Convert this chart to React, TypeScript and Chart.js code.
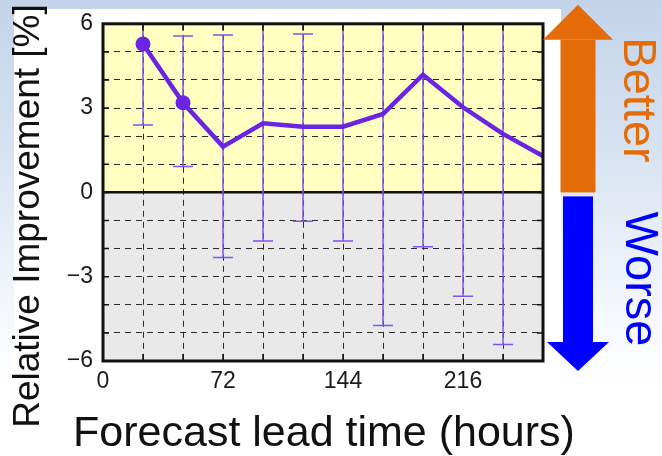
import { useEffect, useRef } from 'react';
import { Chart, registerables } from 'chart.js';

Chart.register(...registerables);

// ---- data ----
const leadTimes = [24, 48, 72, 96, 120, 144, 168, 192, 216, 240, 264];
const improvement = [5.28, 3.19, 1.63, 2.46, 2.34, 2.34, 2.79, 4.19, 3.03, 2.08, 1.29];
const errLow: (number | null)[] = [2.4, 0.92, -2.32, -1.73, -1.03, -1.73, -4.74, -1.93, -3.7, -5.41, null];
const errHigh: (number | null)[] = [6.6, 5.57, 5.6, 6.6, 5.64, 6.6, 6.6, 6.6, 6.6, 6.6, null];
const markerRadius = [7.5, 7.5, 0, 0, 0, 0, 0, 0, 0, 0, 0];
const xTickLabels = [0, 72, 144, 216];
const yTickLabels = [-6, -3, 0, 3, 6];
const xTitle = 'Forecast lead time (hours)';
const yTitle = 'Relative Improvement [%]';

const FONT = '"Liberation Sans", Arial, Helvetica, sans-serif';
const LINE_COLOR = '#6a24e2';
const ERR_COLOR = '#7d55e8';

const fmtNum = (v: number) => (v < 0 ? '\u2212' + Math.abs(v) : String(v));

const decor = {
  id: 'decor',
  beforeDraw(chart: any) {
    const { ctx, chartArea: a, scales } = chart;
    const y0 = scales.y.getPixelForValue(0);
    ctx.save();
    ctx.fillStyle = '#ffffc2';
    ctx.fillRect(a.left, a.top, a.width, y0 - a.top);
    ctx.fillStyle = '#e9e9e9';
    ctx.fillRect(a.left, y0, a.width, a.bottom - y0);
    ctx.restore();
  },
  beforeDatasetsDraw(chart: any) {
    const { ctx, chartArea: a, scales } = chart;
    const { x, y } = scales;
    ctx.save();
    ctx.beginPath();
    ctx.rect(a.left, a.top, a.width, a.height);
    ctx.clip();
    ctx.strokeStyle = ERR_COLOR;
    ctx.lineWidth = 1.5;
    leadTimes.forEach((t, i) => {
      const lo = errLow[i];
      const hi = errHigh[i];
      if (lo == null || hi == null) return;
      const px = x.getPixelForValue(t);
      const pl = y.getPixelForValue(lo);
      const ph = y.getPixelForValue(hi);
      ctx.beginPath();
      ctx.moveTo(px, pl);
      ctx.lineTo(px, ph);
      ctx.moveTo(px - 10, pl);
      ctx.lineTo(px + 10, pl);
      ctx.moveTo(px - 10, ph);
      ctx.lineTo(px + 10, ph);
      ctx.stroke();
    });
    ctx.restore();
  },
  afterDraw(chart: any) {
    const { ctx, chartArea: a, scales } = chart;
    const { x, y } = scales;
    const y0 = y.getPixelForValue(0);
    ctx.save();
    // inner ticks
    ctx.strokeStyle = '#111';
    ctx.lineWidth = 1.5;
    ctx.beginPath();
    for (let v = -5; v <= 5; v++) {
      const py = y.getPixelForValue(v);
      ctx.moveTo(a.left, py);
      ctx.lineTo(a.left + 6, py);
      ctx.moveTo(a.right, py);
      ctx.lineTo(a.right - 6, py);
    }
    for (let t = 24; t < 264; t += 24) {
      const px = x.getPixelForValue(t);
      ctx.moveTo(px, a.bottom);
      ctx.lineTo(px, a.bottom - 7);
      ctx.moveTo(px, a.top);
      ctx.lineTo(px, a.top + 7);
    }
    ctx.stroke();
    // frame
    ctx.strokeStyle = '#111';
    ctx.lineWidth = 3;
    ctx.strokeRect(a.left, a.top, a.width, a.height);

    // y title
    ctx.save();
    ctx.translate(29, 216);
    ctx.rotate(-Math.PI / 2);
    ctx.font = '37px ' + FONT;
    ctx.fillStyle = '#111';
    ctx.textAlign = 'center';
    ctx.textBaseline = 'middle';
    ctx.fillText(yTitle, 0, 0);
    ctx.restore();

    // x title
    ctx.save();
    ctx.font = '43px ' + FONT;
    ctx.fillStyle = '#111';
    ctx.textAlign = 'center';
    ctx.textBaseline = 'alphabetic';
    ctx.fillText(xTitle, (a.left + a.right) / 2 + 1, 446);
    ctx.restore();

    // arrows
    const cx = a.right + 35;
    // orange up arrow
    ctx.fillStyle = '#e36c09';
    ctx.fillRect(cx - 17.5, a.top + 16, 35, y0 - (a.top + 16));
    ctx.beginPath();
    ctx.moveTo(cx - 35, a.top + 16);
    ctx.lineTo(cx, a.top - 19);
    ctx.lineTo(cx + 35, a.top + 16);
    ctx.closePath();
    ctx.fill();
    // blue down arrow
    ctx.fillStyle = '#0000ff';
    ctx.fillRect(cx - 15, y0 + 4, 30, 342 - (y0 + 4));
    ctx.beginPath();
    ctx.moveTo(cx - 31, 342);
    ctx.lineTo(cx, a.bottom + 10);
    ctx.lineTo(cx + 31, 342);
    ctx.closePath();
    ctx.fill();

    // labels
    ctx.font = '47px ' + FONT;
    ctx.textAlign = 'center';
    ctx.textBaseline = 'middle';
    ctx.save();
    ctx.translate(637, 100);
    ctx.rotate(Math.PI / 2);
    ctx.fillStyle = '#e36c09';
    ctx.fillText('Better', 0, 0);
    ctx.restore();
    ctx.save();
    ctx.translate(639, 279);
    ctx.rotate(Math.PI / 2);
    ctx.fillStyle = '#0000ff';
    ctx.fillText('Worse', 0, 0);
    ctx.restore();

    ctx.restore();
  },
};

export default function App() {
  const ref = useRef<HTMLCanvasElement>(null);
  useEffect(() => {
    document.body.style.margin = '0';
    if (!ref.current) return;
    const chart = new Chart(ref.current, {
      type: 'line',
      data: {
        datasets: [
          {
            data: leadTimes.map((t, i) => ({ x: t, y: improvement[i] })),
            borderColor: LINE_COLOR,
            backgroundColor: LINE_COLOR,
            borderWidth: 4.5,
            pointRadius: markerRadius,
            pointBorderWidth: 0,
            pointBackgroundColor: LINE_COLOR,
            tension: 0,
          },
        ],
      },
      options: {
        animation: false,
        responsive: false,
        events: [],
        layout: { padding: { top: 23, right: 119, left: 0, bottom: 0 } },
        plugins: { legend: { display: false }, tooltip: { enabled: false } },
        scales: {
          x: {
            type: 'linear',
            min: 0,
            max: 264,
            afterFit: (s: any) => {
              s.height = 95;
            },
            ticks: {
              stepSize: 24,
              autoSkip: false,
              maxRotation: 0,
              padding: 7,
              color: '#1a1a1a',
              font: { family: FONT, size: 23 },
              callback: (v: any) => (xTickLabels.includes(Number(v)) ? fmtNum(Number(v)) : ''),
            },
            grid: {
              drawTicks: false,
              lineWidth: 1,
              color: (c: any) =>
                c.tick && (c.tick.value === 0 || c.tick.value === 264) ? 'rgba(0,0,0,0)' : '#2a2a2a',
            },
            border: { display: false, dash: [6, 5] },
            title: { display: false },
          },
          y: {
            type: 'linear',
            min: -6,
            max: 6,
            afterFit: (s: any) => {
              s.width = 103;
            },
            ticks: {
              stepSize: 1,
              autoSkip: false,
              padding: 10,
              color: '#1a1a1a',
              font: { family: FONT, size: 23 },
              callback: (v: any) => (yTickLabels.includes(Number(v)) ? fmtNum(Number(v)) : ''),
            },
            grid: {
              drawTicks: false,
              lineWidth: (c: any) => (c.tick && c.tick.value === 0 ? 2.5 : 1),
              color: (c: any) =>
                c.tick && (c.tick.value === 6 || c.tick.value === -6)
                  ? 'rgba(0,0,0,0)'
                  : c.tick && c.tick.value === 0
                  ? '#111'
                  : '#2a2a2a',
            },
            border: {
              display: false,
              dash: (c: any) => (c.tick && c.tick.value === 0 ? [] : [6, 5]),
            },
            title: { display: false },
          },
        },
      },
      plugins: [decor],
    } as any);
    return () => chart.destroy();
  }, []);

  return (
    <div
      style={{
        position: 'relative',
        width: 662,
        height: 456,
        overflow: 'hidden',
        background: 'linear-gradient(to bottom, #c3d3ea 0%, #d9e4f2 35%, #f2f6fb 65%, #ffffff 85%)',
      }}
    >
      <div
        style={{ position: 'absolute', left: 14, top: 9, width: 547, height: 447, background: '#ffffff' }}
      />
      <canvas ref={ref} width={662} height={456} style={{ position: 'absolute', left: 0, top: 0 }} />
    </div>
  );
}
